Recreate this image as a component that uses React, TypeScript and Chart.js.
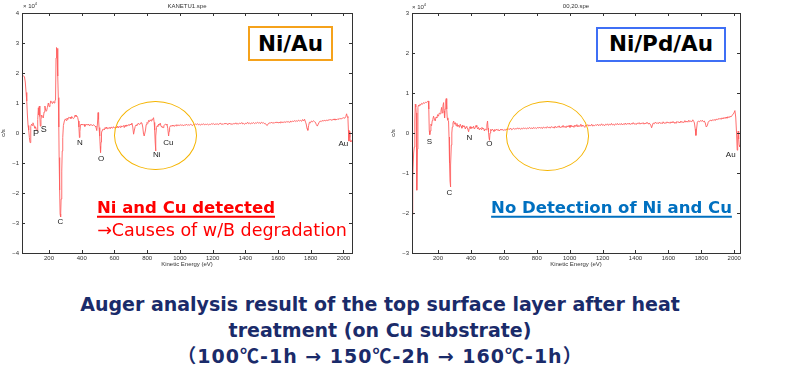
import React, { useEffect, useRef } from 'react';
import { Chart, registerables } from 'chart.js';

Chart.register(...registerables);

// ---- Data (energy eV, intensity x10^4 c/s) ----
const spectrumNiAu: [number, number][] = [
  [35, 1.62], [38, 1.88], [44, 1.9], [50, 1.88], [55, 1.7], [60, 1.35], [64, 1.07], [68, 0.6], [72, 0.25], [76, 0.1],
  [80, -0.15], [84, -0.32], [87, -0.1], [90, 0.22], [94, 0.3], [98, 0.25], [102, 0.34], [106, 0.28], [110, 0.22], [114, 0.16],
  [118, 0.2], [122, 0.12], [127, 0.08], [131, 0.45], [135, 0.84], [138, 0.6], [141, 0.9], [144, 0.55], [147, 0.23], [151, 0.45],
  [155, 0.6], [160, 0.55], [165, 0.5], [170, 0.7], [175, 0.9], [180, 0.75], [185, 0.73], [190, 0.85], [196, 1.0], [201, 0.88],
  [206, 0.95], [211, 1.07], [216, 1.02], [221, 0.98], [226, 1.05], [231, 1.0], [236, 1.07], [240, 1.1], [243, 2.5], [246, 2.85],
  [249, 2.75], [252, 2.82], [255, 1.9], [257, 1.18], [260, 0.2], [262, -0.82], [265, -1.9], [268, -2.7], [271, -2.8], [274, -2.2],
  [278, -1.27], [281, -0.6], [284, -0.15], [288, 0.25], [294, 0.4], [300, 0.47], [305, 0.42], [310, 0.5], [315, 0.45], [320, 0.52],
  [325, 0.5], [329, 0.53], [334, 0.48], [339, 0.55], [344, 0.5], [350, 0.48], [355, 0.52], [360, 0.6], [365, 0.55], [370, 0.57],
  [375, 0.52], [380, 0.4], [383, 0.2], [386, -0.15], [389, 0.05], [392, 0.23], [396, 0.3], [400, 0.27], [404, 0.3], [409, 0.26],
  [414, 0.29], [419, 0.22], [424, 0.27], [429, 0.3], [434, 0.26], [440, 0.3], [445, 0.25], [450, 0.28], [456, 0.27], [462, 0.27],
  [467, 0.24], [472, 0.28], [477, 0.25], [482, 0.23], [487, 0.2], [492, 0.08], [496, 0.3], [500, 0.68], [503, 0.45], [506, 0.18],
  [510, -0.1], [513, -0.45], [515, -0.65], [518, -0.3], [521, 0.0], [524, 0.08], [528, 0.12], [533, 0.13], [538, 0.1], [543, 0.18],
  [548, 0.15], [553, 0.2], [558, 0.14], [563, 0.15], [568, 0.19], [574, 0.14], [579, 0.2], [584, 0.2], [589, 0.16], [594, 0.21],
  [599, 0.17], [604, 0.18], [610, 0.2], [615, 0.18], [620, 0.23], [625, 0.17], [630, 0.22], [635, 0.19], [640, 0.24], [645, 0.2],
  [650, 0.22], [655, 0.25], [660, 0.18], [665, 0.26], [670, 0.22], [675, 0.27], [680, 0.23], [686, 0.28], [691, 0.25], [696, 0.3],
  [701, 0.27], [707, 0.33], [712, 0.2], [717, -0.04], [722, 0.1], [727, 0.22], [732, 0.27], [737, 0.25], [742, 0.3], [747, 0.33],
  [752, 0.28], [757, 0.31], [762, 0.35], [768, 0.33], [773, 0.2], [778, -0.04], [782, -0.1], [786, -0.1], [790, 0.1], [794, 0.28],
  [799, 0.35], [804, 0.32], [809, 0.42], [814, 0.38], [819, 0.44], [824, 0.4], [829, 0.46], [834, 0.45], [839, 0.51], [843, 0.35],
  [846, 0.1], [849, -0.3], [851, -0.6], [854, -0.1], [857, 0.18], [861, 0.24], [866, 0.22], [870, 0.3], [875, 0.26], [880, 0.33],
  [885, 0.22], [890, 0.2], [897, 0.18], [902, 0.24], [907, 0.28], [911, 0.3], [916, 0.27], [921, 0.3], [926, 0.15], [931, -0.1],
  [934, 0.05], [937, 0.18], [942, 0.24], [947, 0.22], [952, 0.26], [957, 0.23], [962, 0.25], [967, 0.22], [972, 0.27], [977, 0.24],
  [982, 0.28], [988, 0.24], [994, 0.27], [1000, 0.25], [1006, 0.28], [1012, 0.25], [1018, 0.27], [1024, 0.24], [1030, 0.28], [1036, 0.26],
  [1042, 0.29], [1048, 0.25], [1054, 0.28], [1060, 0.26], [1066, 0.29], [1072, 0.27], [1078, 0.25], [1084, 0.29], [1090, 0.27], [1096, 0.3],
  [1102, 0.28], [1108, 0.31], [1114, 0.27], [1120, 0.29], [1126, 0.26], [1132, 0.3], [1138, 0.28], [1144, 0.31], [1150, 0.27], [1156, 0.29],
  [1162, 0.28], [1168, 0.3], [1174, 0.27], [1180, 0.29], [1186, 0.28], [1192, 0.31], [1198, 0.29], [1204, 0.32], [1210, 0.28], [1216, 0.3],
  [1222, 0.29], [1228, 0.31], [1234, 0.28], [1240, 0.3], [1246, 0.33], [1252, 0.29], [1258, 0.31], [1264, 0.28], [1270, 0.32], [1276, 0.3],
  [1282, 0.33], [1288, 0.29], [1294, 0.31], [1300, 0.3], [1306, 0.33], [1312, 0.28], [1318, 0.31], [1324, 0.29], [1330, 0.32], [1336, 0.3],
  [1342, 0.34], [1348, 0.29], [1354, 0.32], [1360, 0.3], [1366, 0.33], [1372, 0.31], [1378, 0.35], [1384, 0.3], [1390, 0.32], [1396, 0.29],
  [1402, 0.33], [1408, 0.31], [1414, 0.36], [1420, 0.31], [1426, 0.33], [1432, 0.3], [1438, 0.34], [1444, 0.32], [1450, 0.35], [1456, 0.31],
  [1462, 0.34], [1468, 0.32], [1474, 0.36], [1480, 0.33], [1486, 0.35], [1492, 0.31], [1498, 0.36], [1504, 0.33], [1510, 0.35], [1516, 0.31],
  [1522, 0.32], [1528, 0.27], [1534, 0.25], [1540, 0.31], [1546, 0.34], [1552, 0.32], [1558, 0.36], [1564, 0.33], [1570, 0.35], [1576, 0.32],
  [1582, 0.36], [1588, 0.34], [1594, 0.37], [1600, 0.33], [1606, 0.36], [1612, 0.34], [1618, 0.38], [1624, 0.34], [1630, 0.37], [1636, 0.35],
  [1642, 0.38], [1648, 0.35], [1654, 0.39], [1660, 0.36], [1666, 0.38], [1672, 0.35], [1678, 0.4], [1684, 0.37], [1690, 0.4], [1696, 0.38],
  [1702, 0.42], [1708, 0.38], [1714, 0.41], [1720, 0.39], [1726, 0.43], [1732, 0.4], [1738, 0.42], [1744, 0.39], [1750, 0.45], [1756, 0.4],
  [1762, 0.46], [1768, 0.36], [1772, 0.3], [1777, 0.15], [1782, 0.09], [1787, 0.25], [1792, 0.36], [1798, 0.34], [1804, 0.4], [1810, 0.37],
  [1816, 0.41], [1822, 0.38], [1828, 0.36], [1834, 0.28], [1840, 0.23], [1846, 0.3], [1852, 0.36], [1858, 0.4], [1864, 0.38], [1870, 0.42],
  [1876, 0.39], [1882, 0.43], [1888, 0.4], [1894, 0.43], [1900, 0.41], [1906, 0.44], [1912, 0.42], [1918, 0.46], [1924, 0.42], [1930, 0.45],
  [1936, 0.43], [1942, 0.47], [1948, 0.43], [1954, 0.46], [1960, 0.44], [1966, 0.48], [1972, 0.45], [1978, 0.49], [1984, 0.47], [1990, 0.48],
  [1996, 0.5], [2002, 0.51], [2008, 0.49], [2014, 0.55], [2019, 0.64], [2023, 0.55], [2027, 0.51], [2030, 0.1], [2033, -0.27], [2036, 0.05],
  [2039, -0.15], [2043, -0.3], [2048, -0.25], [2052, -0.3],
];

const spectrumNiPdAu: [number, number][] = [
  [42, -2.05], [45, -1.6], [48, -1.1], [52, -0.5], [56, -0.35], [59, 0.3], [62, 0.72], [65, 0.65], [68, 0.5], [70, -0.3],
  [72, -1.43], [75, -0.4], [78, 0.64], [82, 0.7], [86, 0.68], [90, 0.72], [95, 0.7], [100, 0.74], [106, 0.72], [112, 0.76],
  [118, 0.74], [124, 0.77], [130, 0.76], [136, 0.79], [141, 0.8], [144, 0.6], [147, 0.06], [150, -0.04], [153, 0.05], [157, 0.22],
  [161, 0.18], [165, 0.31], [169, 0.35], [173, 0.42], [178, 0.35], [183, 0.3], [188, 0.4], [193, 0.38], [198, 0.46], [203, 0.42],
  [208, 0.5], [213, 0.48], [218, 0.55], [222, 0.64], [226, 0.5], [230, 0.68], [234, 0.76], [237, 0.55], [240, 0.38], [243, 0.6],
  [247, 0.8], [250, 0.86], [253, 0.6], [256, 0.38], [260, 0.32], [264, 0.3], [267, -0.1], [270, -0.76], [273, -1.2], [275, -1.35],
  [278, -0.8], [281, -0.3], [284, 0.0], [287, 0.15], [291, 0.25], [295, 0.3], [300, 0.22], [305, 0.26], [310, 0.18], [315, 0.24],
  [320, 0.16], [325, 0.2], [330, 0.14], [335, 0.22], [340, 0.17], [345, 0.12], [350, 0.2], [355, 0.15], [360, 0.18], [366, 0.1],
  [371, 0.16], [376, 0.14], [381, 0.1], [386, 0.03], [390, 0.12], [395, 0.16], [400, 0.11], [406, 0.15], [411, 0.12], [416, 0.17],
  [421, 0.1], [426, 0.13], [431, 0.19], [436, 0.15], [441, 0.1], [446, 0.14], [451, 0.08], [457, 0.12], [462, 0.09], [467, 0.14],
  [472, 0.1], [477, 0.12], [482, 0.05], [487, 0.1], [492, 0.08], [497, 0.2], [501, 0.3], [504, 0.12], [507, 0.02], [510, -0.12],
  [513, -0.18], [516, 0.0], [520, 0.09], [525, 0.06], [530, 0.1], [535, 0.07], [540, 0.04], [545, 0.09], [550, 0.06], [556, 0.1],
  [561, 0.07], [566, 0.09], [571, 0.05], [577, 0.08], [582, 0.1], [588, 0.07], [594, 0.09], [600, 0.06], [606, 0.09], [612, 0.07],
  [618, 0.1], [624, 0.08], [630, 0.11], [636, 0.09], [642, 0.12], [648, 0.08], [654, 0.1], [660, 0.12], [666, 0.09], [672, 0.11],
  [678, 0.1], [684, 0.13], [690, 0.1], [696, 0.12], [702, 0.09], [708, 0.12], [714, 0.1], [720, 0.13], [726, 0.11], [732, 0.12],
  [738, 0.1], [744, 0.13], [750, 0.11], [756, 0.14], [762, 0.11], [768, 0.13], [774, 0.1], [780, 0.14], [786, 0.12], [792, 0.13],
  [798, 0.11], [804, 0.14], [810, 0.12], [816, 0.15], [822, 0.12], [828, 0.14], [834, 0.11], [840, 0.15], [846, 0.13], [852, 0.14],
  [858, 0.12], [864, 0.16], [870, 0.13], [876, 0.15], [882, 0.12], [888, 0.16], [894, 0.14], [900, 0.15], [906, 0.12], [912, 0.17],
  [918, 0.13], [924, 0.16], [930, 0.14], [936, 0.18], [942, 0.13], [948, 0.16], [954, 0.14], [960, 0.19], [966, 0.14], [972, 0.17],
  [978, 0.13], [984, 0.18], [990, 0.15], [996, 0.19], [1002, 0.14], [1008, 0.2], [1014, 0.15], [1020, 0.18], [1026, 0.14], [1032, 0.2],
  [1038, 0.16], [1044, 0.21], [1050, 0.15], [1056, 0.19], [1062, 0.16], [1068, 0.22], [1074, 0.16], [1080, 0.2], [1086, 0.17], [1092, 0.14],
  [1098, 0.2], [1104, 0.18], [1110, 0.21], [1116, 0.17], [1122, 0.2], [1128, 0.18], [1134, 0.22], [1140, 0.17], [1146, 0.2], [1152, 0.18],
  [1158, 0.21], [1164, 0.19], [1170, 0.22], [1176, 0.18], [1182, 0.21], [1188, 0.19], [1194, 0.23], [1200, 0.19], [1206, 0.21], [1212, 0.18],
  [1218, 0.22], [1224, 0.2], [1230, 0.23], [1236, 0.19], [1242, 0.22], [1248, 0.2], [1254, 0.24], [1260, 0.2], [1266, 0.22], [1272, 0.19],
  [1278, 0.23], [1284, 0.21], [1290, 0.24], [1296, 0.2], [1302, 0.23], [1308, 0.21], [1314, 0.24], [1320, 0.2], [1326, 0.23], [1332, 0.21],
  [1338, 0.25], [1344, 0.21], [1350, 0.24], [1356, 0.22], [1362, 0.25], [1368, 0.21], [1374, 0.24], [1380, 0.22], [1386, 0.26], [1392, 0.22],
  [1398, 0.24], [1404, 0.21], [1410, 0.25], [1416, 0.23], [1422, 0.26], [1428, 0.22], [1434, 0.25], [1440, 0.23], [1446, 0.26], [1452, 0.22],
  [1458, 0.25], [1464, 0.23], [1470, 0.27], [1476, 0.23], [1482, 0.25], [1488, 0.23], [1494, 0.18], [1498, 0.13], [1503, 0.2], [1508, 0.25],
  [1514, 0.23], [1520, 0.27], [1526, 0.24], [1532, 0.26], [1538, 0.23], [1544, 0.27], [1550, 0.24], [1556, 0.26], [1562, 0.23], [1568, 0.28],
  [1574, 0.24], [1580, 0.26], [1586, 0.24], [1592, 0.28], [1598, 0.25], [1604, 0.27], [1610, 0.24], [1616, 0.28], [1622, 0.25], [1628, 0.29],
  [1634, 0.25], [1640, 0.27], [1646, 0.24], [1652, 0.29], [1658, 0.26], [1664, 0.28], [1670, 0.25], [1676, 0.3], [1682, 0.26], [1688, 0.28],
  [1694, 0.26], [1700, 0.31], [1706, 0.27], [1712, 0.3], [1718, 0.27], [1724, 0.32], [1730, 0.28], [1736, 0.3], [1742, 0.28], [1748, 0.33],
  [1754, 0.29], [1758, 0.25], [1763, 0.1], [1767, -0.06], [1771, 0.1], [1776, 0.27], [1782, 0.3], [1788, 0.28], [1794, 0.31], [1800, 0.29],
  [1806, 0.32], [1812, 0.28], [1818, 0.3], [1824, 0.25], [1830, 0.15], [1836, 0.18], [1842, 0.27], [1848, 0.3], [1854, 0.32], [1860, 0.3],
  [1866, 0.33], [1872, 0.31], [1878, 0.34], [1884, 0.31], [1890, 0.35], [1896, 0.33], [1902, 0.36], [1908, 0.34], [1914, 0.37], [1920, 0.34],
  [1926, 0.38], [1932, 0.35], [1938, 0.39], [1944, 0.36], [1950, 0.4], [1956, 0.37], [1962, 0.41], [1968, 0.38], [1974, 0.42], [1980, 0.4],
  [1986, 0.44], [1992, 0.46], [1998, 0.5], [2004, 0.56], [2009, 0.4], [2014, 0.0], [2018, -0.43], [2021, -0.1], [2024, 0.05], [2027, -0.15],
  [2030, -0.3], [2034, -0.35],
];

const xTickValues = [200, 400, 600, 800, 1000, 1200, 1400, 1600, 1800, 2000];
const yTickValuesNiAu = [-4, -3, -2, -1, 0, 1, 2, 3, 4];
const yTickValuesNiPdAu = [-3, -2, -1, 0, 1, 2, 3];

const LINE_COLOR = 'rgba(255, 95, 95, 0.9)';
const AXIS_COLOR = '#333333';
const SMALL_FONT = "'Liberation Sans', Arial, sans-serif";
const MAIN_FONT = "'DejaVu Sans', 'Noto Sans CJK JP', sans-serif";
const CJK_FONT = "'Noto Sans CJK JP', sans-serif";
const CAPTION_COLOR = '#1a2b6a';

const frameTicks = {
  id: 'frameTicks',
  afterDraw(chart: any) {
    const { ctx, chartArea } = chart;
    const { left, right, top, bottom } = chartArea;
    const x = chart.scales.x;
    const y = chart.scales.y;
    ctx.save();
    ctx.strokeStyle = AXIS_COLOR;
    ctx.lineWidth = 1;
    ctx.strokeRect(Math.round(left) + 0.5, Math.round(top) + 0.5, Math.round(right - left), Math.round(bottom - top));
    ctx.beginPath();
    x.ticks.forEach((t: any) => {
      const px = Math.round(x.getPixelForValue(t.value)) + 0.5;
      ctx.moveTo(px, bottom);
      ctx.lineTo(px, bottom - 3);
      ctx.moveTo(px, top);
      ctx.lineTo(px, top + 3);
    });
    y.ticks.forEach((t: any) => {
      const py = Math.round(y.getPixelForValue(t.value)) + 0.5;
      ctx.moveTo(left, py);
      ctx.lineTo(left + 3, py);
      ctx.moveTo(right, py);
      ctx.lineTo(right - 3, py);
    });
    ctx.stroke();
    ctx.restore();
  },
};

type SpectrumProps = {
  points: [number, number][];
  xMin: number;
  xMax: number;
  yTicks: number[];
  left: number;
  width: number;
  padRight: number;
};

function Spectrum({ points, xMin, xMax, yTicks, left, width, padRight }: SpectrumProps) {
  const ref = useRef<HTMLCanvasElement>(null);
  useEffect(() => {
    const tickFont = { size: 6, family: SMALL_FONT };
    const chart = new Chart(ref.current as HTMLCanvasElement, {
      type: 'line',
      data: {
        datasets: [
          {
            data: points.map(([x, y]) => ({ x, y })),
            borderColor: LINE_COLOR,
            borderWidth: 1,
            pointRadius: 0,
            tension: 0,
            fill: false,
          },
        ],
      },
      options: {
        animation: false,
        responsive: false,
        maintainAspectRatio: false,
        layout: { padding: { top: 13, right: padRight, left: 0, bottom: 0 } },
        plugins: { legend: { display: false }, tooltip: { enabled: false } },
        scales: {
          x: {
            type: 'linear',
            min: xMin,
            max: xMax,
            afterBuildTicks: (s: any) => {
              s.ticks = xTickValues.map((v) => ({ value: v }));
            },
            afterFit: (s: any) => {
              s.height = 19;
            },
            grid: { display: false, drawTicks: false },
            border: { display: false },
            ticks: {
              font: tickFont,
              color: AXIS_COLOR,
              padding: 2,
              maxRotation: 0,
              autoSkip: false,
              callback: (v: any) => String(v),
            },
            title: {
              display: true,
              text: 'Kinetic Energy (eV)',
              font: tickFont,
              color: AXIS_COLOR,
              padding: { top: 0, bottom: 4 },
            },
          },
          y: {
            type: 'linear',
            min: yTicks[0],
            max: yTicks[yTicks.length - 1],
            afterBuildTicks: (s: any) => {
              s.ticks = yTicks.map((v) => ({ value: v }));
            },
            afterFit: (s: any) => {
              s.width = 22;
            },
            grid: { display: false, drawTicks: false },
            border: { display: false },
            ticks: {
              font: tickFont,
              color: AXIS_COLOR,
              padding: 3,
              autoSkip: false,
              callback: (v: any) => (Number(v) < 0 ? '\u2212' + Math.abs(Number(v)) : String(v)),
            },
            title: {
              display: true,
              text: 'c/s',
              font: tickFont,
              color: AXIS_COLOR,
              padding: { top: 0, bottom: 0 },
            },
          },
        },
      } as any,
      plugins: [frameTicks],
    });
    return () => chart.destroy();
  }, []);
  return (
    <canvas
      ref={ref}
      width={width}
      height={272}
      style={{ position: 'absolute', left, top: 0, width, height: 272 }}
    />
  );
}

function Label({ x, y, text, size = 8, color = '#222', weight = 400, family = SMALL_FONT, style = {} }: any) {
  return (
    <div
      style={{
        position: 'absolute',
        left: x,
        top: y,
        transform: 'translate(-50%, -50%)',
        whiteSpace: 'nowrap',
        fontFamily: family,
        fontSize: size,
        fontWeight: weight,
        color,
        lineHeight: 1,
        ...style,
      }}
    >
      {text}
    </div>
  );
}

function Box({ x, y, w, h, color, text }: any) {
  return (
    <div
      style={{
        position: 'absolute',
        left: x,
        top: y,
        width: w,
        height: h,
        boxSizing: 'border-box',
        border: `2.5px solid ${color}`,
        background: '#fff',
        display: 'flex',
        alignItems: 'center',
        justifyContent: 'center',
        fontFamily: MAIN_FONT,
        fontWeight: 700,
        fontSize: 21.5,
        color: '#000',
        lineHeight: 1,
      }}
    >
      {text}
    </div>
  );
}

function Ellipse({ cx, cy, rx, ry }: any) {
  return (
    <div
      style={{
        position: 'absolute',
        left: cx - rx,
        top: cy - ry,
        width: rx * 2,
        height: ry * 2,
        boxSizing: 'border-box',
        border: '1.8px solid #f5b400',
        borderRadius: '50%',
      }}
    />
  );
}

const cjk = (s: string) => <span style={{ fontFamily: CJK_FONT }}>{s}</span>;

export default function App() {
  return (
    <div style={{ position: 'fixed', left: 0, top: 0, width: 800, height: 379, background: '#fff', overflow: 'hidden' }}>
      <Spectrum points={spectrumNiAu} xMin={35} xMax={2052} yTicks={yTickValuesNiAu} left={0} width={360} padRight={8} />
      <Spectrum points={spectrumNiPdAu} xMin={42} xMax={2035} yTicks={yTickValuesNiPdAu} left={390} width={360} padRight={10} />

      {/* chart headers */}
      <Label x={187} y={5.5} text="KANETU1.spe" size={6} color={AXIS_COLOR} />
      <Label x={576} y={6} text="00,20.spe" size={6} color={AXIS_COLOR} />
      <div style={{ position: 'absolute', left: 23, top: 1, fontFamily: SMALL_FONT, fontSize: 6, color: AXIS_COLOR, whiteSpace: 'nowrap' }}>
        × 10<sup style={{ fontSize: 4 }}>4</sup>
      </div>
      <div style={{ position: 'absolute', left: 412, top: 2, fontFamily: SMALL_FONT, fontSize: 6, color: AXIS_COLOR, whiteSpace: 'nowrap' }}>
        × 10<sup style={{ fontSize: 4 }}>4</sup>
      </div>

      {/* peak labels, left */}
      <Label x={36} y={133} text="P" size={9} />
      <Label x={43.7} y={128.7} text="S" size={9} />
      <Label x={60.3} y={222.3} text="C" />
      <Label x={80} y={142.7} text="N" />
      <Label x={101} y={159.3} text="O" />
      <Label x={156.7} y={155} text="Ni" />
      <Label x={168.3} y={143.3} text="Cu" />
      <Label x={343.3} y={144} text="Au" />

      {/* peak labels, right */}
      <Label x={429.3} y={142.3} text="S" />
      <Label x={469.3} y={137.7} text="N" />
      <Label x={489.3} y={144.3} text="O" />
      <Label x={449.3} y={193.3} text="C" />
      <Label x={730.7} y={155} text="Au" />

      <Ellipse cx={155.5} cy={135.3} rx={41.5} ry={34.7} />
      <Ellipse cx={547.3} cy={135.8} rx={41.7} ry={34.8} />

      <Box x={248} y={26} w={85} h={35} color="#f5a21b" text="Ni/Au" />
      <Box x={596} y={26.5} w={130} h={35} color="#3f6ff5" text="Ni/Pd/Au" />

      <Label
        x={186}
        y={207.5}
        text="Ni and Cu detected"
        size={16.5}
        weight={700}
        color="#ff0000"
        family={MAIN_FONT}
        style={{ textDecoration: 'underline', textUnderlineOffset: '3px', textDecorationThickness: '1.5px' }}
      />
      <Label x={222} y={230.5} text="→Causes of w/B degradation" size={17.5} color="#ff0000" family={MAIN_FONT} />
      <Label
        x={611.5}
        y={207.7}
        text="No Detection of Ni and Cu"
        size={16.5}
        weight={700}
        color="#0070c0"
        family={MAIN_FONT}
        style={{ textDecoration: 'underline', textUnderlineOffset: '3px', textDecorationThickness: '1.5px' }}
      />

      {/* caption */}
      <Label x={380} y={304} text="Auger analysis result of the top surface layer after heat" size={19} weight={700} color={CAPTION_COLOR} family={MAIN_FONT} />
      <Label x={380} y={329.5} text="treatment (on Cu substrate)" size={19} weight={700} color={CAPTION_COLOR} family={MAIN_FONT} />
      <Label
        x={380}
        y={355}
        size={19}
        weight={700}
        color={CAPTION_COLOR}
        family={MAIN_FONT}
        style={{ letterSpacing: '1px' }}
        text={
          <>
            {cjk('（')}100{cjk('℃')}-1h → 150{cjk('℃')}-2h → 160{cjk('℃')}-1h{cjk('）')}
          </>
        }
      />
    </div>
  );
}
